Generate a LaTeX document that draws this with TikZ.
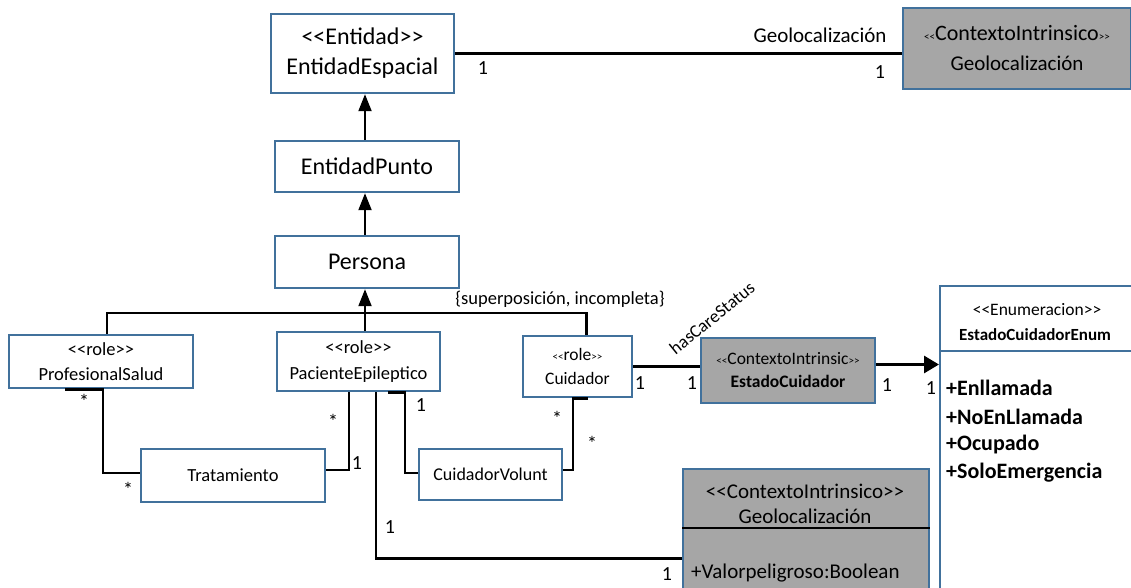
\documentclass[tikz,border=0pt]{standalone}
\usepackage{fontspec}
\setmainfont{Carlito}[Ligatures=TeXOff]
\usetikzlibrary{arrows.meta}
\definecolor{boxblue}{RGB}{65,113,156}
\definecolor{ctxgray}{RGB}{166,166,166}
\newcommand{\setfs}[1]{\fontsize{#1}{#1}\selectfont}
\newcommand{\smallgl}[1]{{\fontsize{11}{11}\selectfont #1}}
\begin{document}
\begin{tikzpicture}[x=1pt,y=-1pt,
  cls/.style={draw=boxblue, line width=2.4pt, fill=white, inner sep=0pt, align=center},
  ctx/.style={cls, fill=ctxgray},
  conn/.style={line width=2.8pt, black},
  genarrow/.style={line width=2pt, black, -{Triangle[length=17pt,width=13pt]}},
  navarrow/.style={line width=3pt, black, -{Triangle[length=15pt,width=17pt]}},
  mult/.style={font=\setfs{20}, inner sep=0pt},
  lbl/.style={inner sep=0pt},
]
\useasboundingbox (0,0) rectangle (1131,588);

% classes
\node[cls, minimum width=183pt, minimum height=79pt, font=\fontsize{24}{30}\selectfont]
  (ent) at (362.5,53.5) {<<Entidad>>\\EntidadEspacial};
\node[ctx, minimum width=228pt, minimum height=81pt, font=\fontsize{22}{30}\selectfont]
  (geo1) at (1017,48.5) {\smallgl{<<}ContextoIntrinsico\smallgl{>>}\\{\setfs{21}Geolocalización}};
\node[cls, minimum width=184pt, minimum height=51pt, font=\setfs{24}]
  (punto) at (367,166.5) {EntidadPunto};
\node[cls, minimum width=184pt, minimum height=52pt, font=\setfs{24}]
  (persona) at (367,262) {Persona};
\node[cls, minimum width=184pt, minimum height=53pt, font=\fontsize{18.5}{25}\selectfont]
  (prof) at (101,361.5) {<<role>>\\ProfesionalSalud};
\node[cls, minimum width=163pt, minimum height=59pt, font=\fontsize{18.5}{26}\selectfont]
  (pac) at (358.5,361.5) {<<role>>\\PacienteEpileptico};
\node[cls, minimum width=109pt, minimum height=61pt, font=\fontsize{17.5}{24}\selectfont]
  (cuid) at (577.5,366.5) {\smallgl{<<}role\smallgl{>>}\\Cuidador};
\node[cls, minimum width=184pt, minimum height=53pt, font=\setfs{18.5}]
  (trat) at (233,475.5) {Tratamiento};
\node[cls, minimum width=143pt, minimum height=51pt, font=\setfs{18}]
  (cvol) at (490.5,474.5) {CuidadorVolunt};
\node[ctx, minimum width=174pt, minimum height=65pt, font=\fontsize{17.5}{23}\selectfont]
  (estc) at (788,370.5) {\smallgl{<<}ContextoIntrinsic\smallgl{>>}\\\textbf{EstadoCuidador}};

% enumeration
\node[cls, minimum width=215pt, minimum height=340pt, anchor=north west] (enum) at (939,285) {};
\draw[boxblue, line width=1.5pt] (enum.west |- 0,351) -- (enum.east |- 0,351);
\node[lbl, font=\setfs{17.5}] (enumst) at (1037,310) {<<Enumeracion>>};
\node[lbl, font=\bfseries\setfs{17}] (enumname) at (1035,335) {EstadoCuidadorEnum};
\node[lbl, font=\bfseries\setfs{22}, anchor=west] (lit1) at (946,388) {+Enllamada};
\node[lbl, font=\bfseries\setfs{22}, anchor=west] (lit2) at (946,417) {+NoEnLlamada};
\node[lbl, font=\bfseries\setfs{22}, anchor=west] (lit3) at (946,445) {+Ocupado};
\node[lbl, font=\bfseries\setfs{22}, anchor=west] (lit4) at (946,473) {+SoloEmergencia};

% intrinsic context with attribute
\node[ctx, minimum width=246pt, minimum height=160pt, anchor=north west] (geo2) at (682,468) {};
\draw[black, line width=2.6pt] (geo2.west |- 0,528) -- (geo2.east |- 0,528);
\node[lbl, font=\setfs{21}] (geo2st) at (805,491) {<<ContextoIntrinsico>>};
\node[lbl, font=\setfs{21}] (geo2name) at (805,516) {Geolocalización};
\node[lbl, font=\setfs{21}, anchor=west] (geo2attr) at (691,573) {+Valorpeligroso:Boolean};

% associations
\draw[conn] (ent.east) -- (ent.east -| geo1.west);
\node[lbl, font=\setfs{21}] (geolbl) at (820,35) {Geolocalización};
\node[mult] (m1) at (483,68) {1};
\node[mult] (m2) at (880,72) {1};

% generalisations
\draw[genarrow] ([xshift=-2pt]punto.north) -- ([xshift=-2pt]punto.north |- ent.south);
\draw[genarrow] ([xshift=-2pt]persona.north) -- ([xshift=-2pt]persona.north |- punto.south);
\coordinate (gen) at (365,313);
\draw[conn] ([xshift=6pt]prof.north) |- (gen) -| ([xshift=9pt]cuid.north);
\draw[genarrow] ([xshift=6.5pt]pac.north) -- ([xshift=6.5pt]pac.north |- persona.south);
\node[lbl, font=\setfs{18.5}] (constraint) at (560,299) {\{superposición, incompleta\}};

% role associations
\draw[conn] ([xshift=-36pt]prof.south) -- ([xshift=2pt]prof.south) |- ([yshift=2.5pt]trat.west);
\node[mult] (m3) at (84,401) {*};
\node[mult] (m4) at (128,489) {*};

\draw[conn] ([xshift=-9.5pt]pac.south) |- ([yshift=5.5pt]trat.east);
\node[mult] (m5) at (333,421) {*};
\node[mult] (m6) at (357,463) {1};

\draw[conn] ([xshift=29.5pt]pac.south) -- ([xshift=46.5pt]pac.south) |- ([yshift=1.5pt]cvol.west);
\node[mult] (m7) at (421,405) {1};

\draw[conn] ([xshift=17.5pt]pac.south) |- ([yshift=-9pt]geo2.west);
\node[mult] (m8) at (390,527) {1};
\node[mult] (m9) at (667,574) {1};

\draw[conn] ([xshift=10pt]cuid.south) -- ([xshift=-4.5pt]cuid.south) |- ([yshift=4.5pt]cvol.east);
\node[mult] (m10) at (557,418) {*};
\node[mult] (m11) at (592,443) {*};

\draw[conn] (cuid.east) -- (cuid.east -| estc.west);
\node[mult] (m12) at (640,383) {1};
\node[mult] (m13) at (692,383) {1};
\node[lbl, font=\setfs{18}, rotate=39] (care) at (712,318) {hasCareStatus};

\draw[navarrow] ([yshift=6pt]estc.east) -- ([yshift=6pt]estc.east -| enum.west);
\node[mult] (m14) at (887,385) {1};
\node[mult] (m15) at (931,388) {1};
\end{tikzpicture}
\end{document}
